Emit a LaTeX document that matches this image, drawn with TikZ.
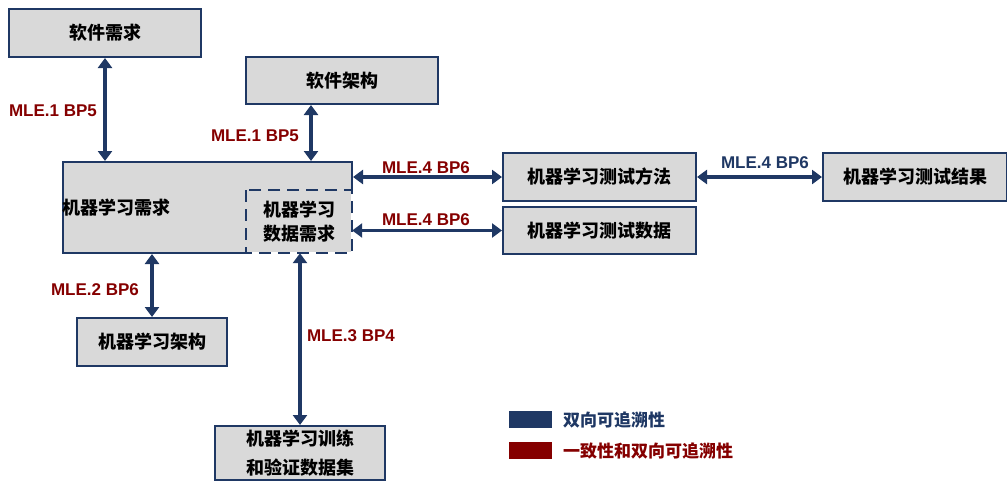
\documentclass[tikz,border=0pt]{standalone}
\usepackage{fontspec}
\setmainfont{Liberation Sans}
\newfontfamily\cjk{Noto Sans CJK SC}
\usetikzlibrary{arrows.meta}
\definecolor{navyc}{HTML}{1F3864}
\definecolor{redc}{HTML}{850000}
\definecolor{boxfill}{HTML}{D9D9D9}
\tikzset{
  box/.style={draw=navyc, line width=2pt, fill=boxfill, inner sep=0pt, align=center,
    font=\cjk\bfseries\fontsize{18}{27}\selectfont},
  biarrow/.style={draw=navyc, line width=3.4pt, {Triangle[length=10pt,width=14pt]}-{Triangle[length=10pt,width=14pt]}},
  lbl/.style={text=redc, font=\bfseries\fontsize{17}{18}\selectfont, inner sep=0pt},
  lblb/.style={text=navyc, font=\bfseries\fontsize{17}{18}\selectfont, inner sep=0pt},
  legtxt/.style={font=\cjk\bfseries\fontsize{17}{18}\selectfont, inner sep=0pt, anchor=west}
}
\begin{document}
\begin{tikzpicture}[x=1pt,y=-1pt]
\useasboundingbox (0,0) rectangle (1007,482);
% boxes
\node[box, minimum width=192pt, minimum height=48pt] (swreq) at (105,33) {软件需求};
\node[box, minimum width=192pt, minimum height=47pt] (swarch) at (342,80.5) {软件架构};
\node[box, minimum width=289pt, minimum height=91pt] (mlreq) at (207.5,207.5) {};
\node[anchor=west, inner sep=0pt, font=\cjk\bfseries\fontsize{18}{27}\selectfont] (mlreqt) at (62,208) {机器学习需求};
% dashed data requirement box
\coordinate (dnw) at (246,190);
\coordinate (dse) at (352,253);
\draw[white, line width=2pt] (dnw -| dse) -- (dse) -- (dse -| dnw);
\draw[navyc, line width=2pt, dash pattern=on 12pt off 7pt] (dnw) rectangle (dse);
\node[inner sep=0pt, align=center, minimum width=106pt, minimum height=63pt,
  font=\cjk\bfseries\fontsize{18}{24}\selectfont] (data) at (299,221.5) {机器学习\\数据需求};
\node[box, minimum width=193pt, minimum height=48pt] (testm) at (599.5,177) {机器学习测试方法};
\node[box, minimum width=193pt, minimum height=47pt] (testd) at (599.5,230.5) {机器学习测试数据};
\node[box, minimum width=184pt, minimum height=48pt] (testr) at (915,177) {机器学习测试结果};
\node[box, minimum width=150pt, minimum height=48pt] (mlarch) at (152,342) {机器学习架构};
\node[box, minimum width=170pt, minimum height=54pt,
  font=\cjk\bfseries\fontsize{18}{29}\selectfont] (train) at (300,453) {机器学习训练\\和验证数据集};
% connectors
\draw[biarrow] (swreq.south) -- (swreq.south |- mlreq.north);
\draw[biarrow] ([xshift=-31pt]swarch.south) -- ([xshift=-31pt]swarch.south |- mlreq.north);
\draw[biarrow] (mlreq.east |- testm.west) -- (testm.west);
\draw[biarrow] (data.east |- testd.west) -- (testd.west);
\draw[biarrow] (testm.east) -- (testr.west);
\draw[biarrow] (mlarch.north |- mlreq.south) -- (mlarch.north);
\draw[biarrow] (train.north |- data.south) -- (train.north);
% labels
\node[lbl] (l1) at (53,111) {MLE.1 BP5};
\node[lbl] (l2) at (255,136) {MLE.1 BP5};
\node[lbl] (l3) at (426,168) {MLE.4 BP6};
\node[lbl] (l4) at (426,220) {MLE.4 BP6};
\node[lblb] (l5) at (765,163) {MLE.4 BP6};
\node[lbl] (l6) at (95,290) {MLE.2 BP6};
\node[lbl] (l7) at (351,336) {MLE.3 BP4};
% legend
\fill[navyc] (509,411) rectangle (552,428);
\fill[redc] (509,442) rectangle (552,459);
\node[legtxt, text=navyc] (lg1) at (563,420) {双向可追溯性};
\node[legtxt, text=redc] (lg2) at (563,451) {一致性和双向可追溯性};
\end{tikzpicture}
\end{document}
